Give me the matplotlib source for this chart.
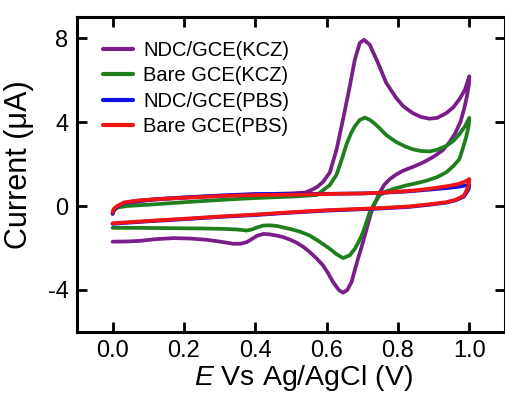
import matplotlib
matplotlib.use("Agg")
import matplotlib.pyplot as plt

plt.rcParams['font.family'] = ['Liberation Sans', 'DejaVu Sans']
plt.rcParams['mathtext.fontset'] = 'custom'
plt.rcParams['mathtext.it'] = 'Liberation Sans:italic'
plt.rcParams['mathtext.rm'] = 'Liberation Sans'

# ---- data (potential in V, current in uA) ----
ndc_kcz_E = [0, 0.004, 0.015, 0.04, 0.1, 0.2, 0.3, 0.4, 0.5, 0.54, 0.562, 0.575, 0.59, 0.609,
             0.628, 0.646, 0.665, 0.679, 0.693, 0.705, 0.721, 0.744, 0.767, 0.795, 0.815, 0.842,
             0.865, 0.888, 0.91, 0.935, 0.955, 0.972, 0.988, 1.0,
             0.999, 0.993, 0.985, 0.975, 0.96, 0.945, 0.925, 0.9, 0.87, 0.84, 0.814, 0.795, 0.777,
             0.762, 0.749, 0.737, 0.725, 0.716, 0.707, 0.698, 0.688, 0.679, 0.67, 0.658, 0.646,
             0.634, 0.618, 0.604, 0.59, 0.572, 0.553, 0.535, 0.516, 0.497, 0.478, 0.46, 0.44,
             0.423, 0.405, 0.39, 0.376, 0.358, 0.339, 0.31, 0.264, 0.218, 0.171, 0.12, 0.078,
             0.04, 0.0]
ndc_kcz_I = [-0.38, -0.15, 0.0, 0.12, 0.28, 0.4, 0.48, 0.55, 0.6, 0.64, 0.8, 0.93, 1.15, 1.6,
             2.7, 4.13, 5.71, 6.97, 7.77, 7.92, 7.68, 6.82, 5.87, 5.15, 4.75, 4.42,
             4.24, 4.16, 4.2, 4.42, 4.7, 5.08, 5.55, 6.18,
             5.8, 5.2, 4.6, 4.0, 3.45, 3.05, 2.65, 2.35, 2.07, 1.85, 1.68, 1.5, 1.28,
             1.02, 0.65, 0.2, -0.3, -0.85, -1.41, -1.95, -2.51, -3.05, -3.62, -4.0, -4.13,
             -4.0, -3.62, -3.2, -2.83, -2.5, -2.2, -1.95, -1.75, -1.6, -1.48, -1.41, -1.35,
             -1.33, -1.42, -1.58, -1.72, -1.8, -1.8, -1.72, -1.61, -1.55, -1.53, -1.58, -1.66,
             -1.69, -1.70]

bare_kcz_E = [0, 0.004, 0.015, 0.04, 0.125, 0.2, 0.311, 0.4, 0.516, 0.55, 0.572, 0.59, 0.609,
              0.628, 0.642, 0.656, 0.668, 0.679, 0.693, 0.707, 0.72, 0.735, 0.749, 0.767, 0.795,
              0.82, 0.842, 0.865, 0.888, 0.91, 0.935, 0.955, 0.972, 0.988, 1.0,
              0.998, 0.992, 0.982, 0.972, 0.955, 0.935, 0.91, 0.879, 0.85, 0.823, 0.795, 0.767,
              0.749, 0.735, 0.721, 0.712, 0.702, 0.69, 0.679, 0.665, 0.646, 0.628, 0.609, 0.58,
              0.553, 0.525, 0.497, 0.478, 0.46, 0.44, 0.423, 0.405, 0.39, 0.376, 0.35, 0.311,
              0.25, 0.19, 0.12, 0.06, 0.0]
bare_kcz_I = [-0.38, -0.2, -0.07, 0.0, 0.09, 0.18, 0.3, 0.38, 0.46, 0.5, 0.52, 0.75, 1.0,
              1.5, 2.2, 2.95, 3.45, 3.8, 4.1, 4.21, 4.12, 3.92, 3.7, 3.38, 3.05,
              2.84, 2.7, 2.62, 2.6, 2.68, 2.86, 3.1, 3.42, 3.8, 4.2,
              3.8, 3.34, 2.75, 2.23, 1.9, 1.6, 1.38, 1.2, 1.08, 0.98, 0.85, 0.7,
              0.52, 0.15, -0.3, -0.75, -1.25, -1.7, -2.04, -2.35, -2.48, -2.3, -2.04, -1.7,
              -1.41, -1.22, -1.09, -1.02, -0.95, -0.92, -0.93, -1.02, -1.12, -1.17, -1.12, -1.09,
              -1.07, -1.06, -1.05, -1.04, -1.04]

ndc_pbs_E = [0, 0.003, 0.01, 0.032, 0.07, 0.125, 0.2, 0.311, 0.4, 0.5, 0.6, 0.7, 0.749, 0.832,
             0.888, 0.94, 0.97, 0.99, 1.0,
             0.998, 0.985, 0.963, 0.935, 0.888, 0.832, 0.749, 0.6, 0.497, 0.4, 0.3, 0.218, 0.1,
             0.03, 0.0]
ndc_pbs_I = [-0.35, -0.2, -0.06, 0.15, 0.25, 0.33, 0.41, 0.51, 0.57, 0.58, 0.58, 0.6, 0.62, 0.7,
             0.78, 0.86, 0.92, 0.98, 1.0,
             0.8, 0.45, 0.28, 0.16, 0.06, -0.04, -0.12, -0.22, -0.32, -0.43, -0.52, -0.61, -0.73,
             -0.81, -0.85]

bare_pbs_E = [0, 0.003, 0.01, 0.032, 0.07, 0.125, 0.2, 0.311, 0.4, 0.5, 0.6, 0.7, 0.749, 0.832,
              0.888, 0.94, 0.97, 0.99, 1.0,
              0.998, 0.985, 0.963, 0.935, 0.888, 0.832, 0.749, 0.6, 0.497, 0.4, 0.3, 0.218, 0.1,
              0.03, 0.0]
bare_pbs_I = [-0.3, -0.15, -0.03, 0.17, 0.26, 0.33, 0.39, 0.48, 0.52, 0.54, 0.57, 0.6, 0.63, 0.72,
              0.82, 0.95, 1.05, 1.18, 1.28,
              0.95, 0.5, 0.3, 0.18, 0.08, -0.02, -0.1, -0.2, -0.3, -0.41, -0.5, -0.59, -0.71,
              -0.79, -0.82]

labels = ['NDC/GCE(KCZ)', 'Bare GCE(KCZ)', 'NDC/GCE(PBS)', 'Bare GCE(PBS)']
colors = ['#7A1E8A', '#1F7F1F', '#1010E0', '#F01414']
x_ticks = [0.0, 0.2, 0.4, 0.6, 0.8, 1.0]
y_ticks = [-4, 0, 4, 8]

fig = plt.figure(figsize=(5.06, 3.98), dpi=100)
ax = fig.add_axes([0.152, 0.166, 0.846, 0.791])

series = [(ndc_kcz_E, ndc_kcz_I), (bare_kcz_E, bare_kcz_I),
          (ndc_pbs_E, ndc_pbs_I), (bare_pbs_E, bare_pbs_I)]
for (E, I), lab, c in zip(series, labels, colors):
    ax.plot(E, I, color=c, lw=2.7, label=lab, solid_joinstyle='round', solid_capstyle='round')

ax.set_xlim(-0.1, 1.1)
ax.set_ylim(-6, 9)
ax.set_xticks(x_ticks)
ax.set_xticklabels([f'{v:.1f}' for v in x_ticks])
ax.set_yticks(y_ticks)
ax.set_yticklabels([str(v) for v in y_ticks])
ax.tick_params(direction='in', length=7, width=2, top=True, right=True,
               labelsize=17, pad=6)
for s in ax.spines.values():
    s.set_linewidth(2.2)

ax.set_xlabel(r'$\mathit{E}$ Vs Ag/AgCl (V)', fontsize=20.5)
ax.set_ylabel('Current (μA)', fontsize=22)
ax.xaxis.set_label_coords(0.53, -0.1)
ax.yaxis.set_label_coords(-0.1, 0.533)

leg = ax.legend(loc='upper left', bbox_to_anchor=(0.061, 0.925), frameon=False,
                fontsize=14.5, handlelength=1.5, handletextpad=0.5, labelspacing=0.32,
                borderpad=0, borderaxespad=0)
for h in leg.get_lines():
    h.set_linewidth(3.0)

fig.savefig('out.png', dpi=100)
